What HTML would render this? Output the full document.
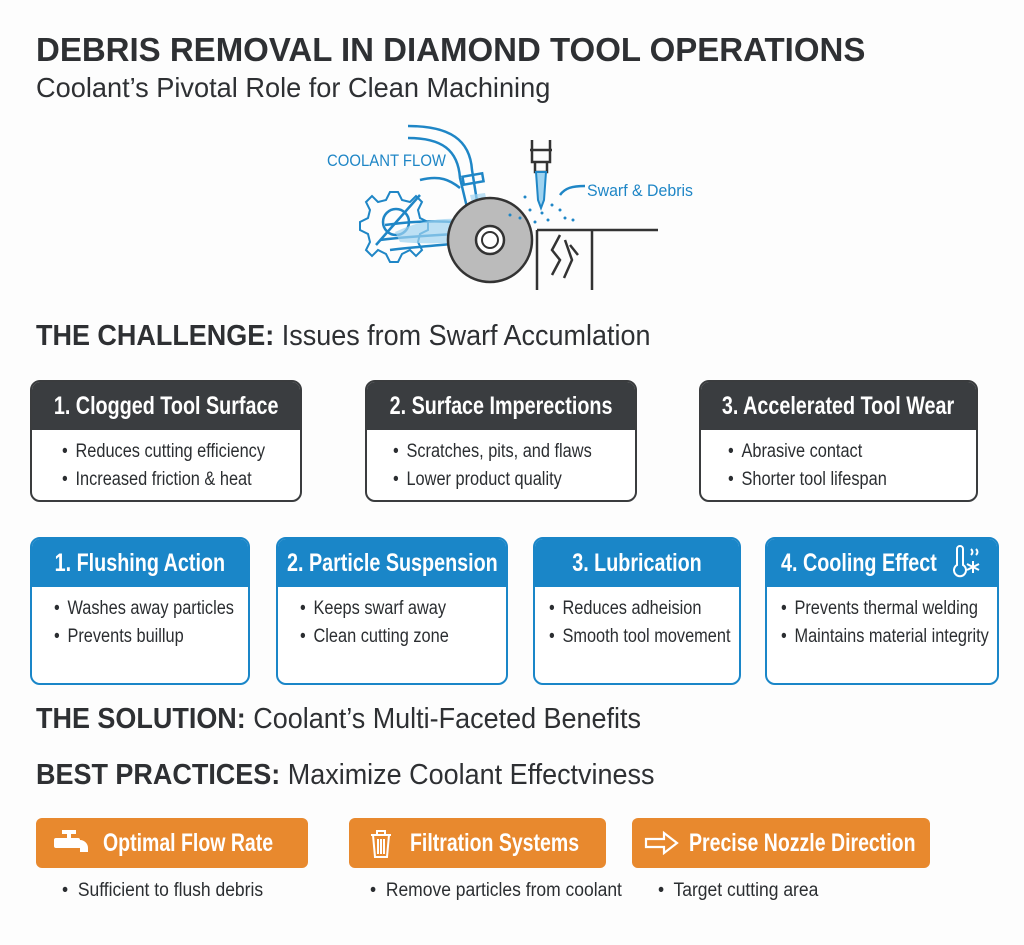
<!DOCTYPE html>
<html><head><meta charset="utf-8"><style>
body{margin:0;width:1024px;height:945px;background:#fdfdfd;position:relative;overflow:hidden;font-family:"Liberation Sans",sans-serif;color:#2b2e31}
.a{position:absolute;white-space:nowrap}
.card{position:absolute;box-sizing:border-box;border-radius:10px;overflow:hidden;background:#fff}
.dk{border:2px solid #3a3c3e}
.dk .h{background:#3a3d40}
.bl{border:2px solid #1a86c8}
.bl .h{background:#1a86c8}
.h{color:#fff;font-size:25px;font-weight:bold;height:48px;display:flex;align-items:center;justify-content:center;white-space:nowrap}
.h span{display:inline-block;transform:scaleX(.79);transform-origin:center}
.b{font-size:19px;line-height:28px;padding-top:8px;white-space:nowrap;transform:scaleX(.86);transform-origin:left top}
.b div::before{content:"•";margin-right:9px}
.or{position:absolute;background:#e8892e;border-radius:6px;color:#fff;font-size:25px;font-weight:bold;height:50px;line-height:50px;box-sizing:border-box;white-space:nowrap}
.or .t{position:absolute;top:0;display:inline-block;transform:scaleX(.78);transform-origin:left center}
.or svg{position:absolute}
.bu{font-size:19px;transform:scaleX(.92);transform-origin:left top}
.hd{font-size:29px;color:#2e3033;transform:scaleX(.93);transform-origin:left top}
</style></head><body>
<div class="a" style="left:36px;top:31px;font-weight:bold;font-size:33px;color:#2e3033">DEBRIS REMOVAL IN DIAMOND TOOL OPERATIONS</div>
<div class="a" style="left:36px;top:72px;font-size:28px;color:#2e3033;transform:scaleX(.97);transform-origin:left top">Coolant’s Pivotal Role for Clean Machining</div>

<svg class="a" style="left:320px;top:100px" width="400" height="200" viewBox="0 0 400 200">
<g fill="none" stroke="#1f86c6" stroke-width="2.5">
<path d="M88 26 C130 26 150 40 152 70 L160 120"/>
<path d="M88 38 C122 38 138 50 140 78 L150 120"/>
<rect x="143" y="75" width="20" height="8" transform="rotate(-10 153 79)"/>
<path d="M100 80 C120 75 130 80 140 88"/>
<path d="M60 140 C100 135 130 135 165 132 M65 125 C100 120 130 120 160 125 M70 150 C110 145 140 145 170 138"/>
<path d="M58 102 l8 -2 l4 -8 l8 0 l4 8 l8 2 l6 -6 l6 6 l-4 8 l2 8 l8 4 l0 8 l-8 4 l-2 8 l4 8 l-6 6 l-6 -6 l-8 4 l-4 8 l-8 0 l-4 -8 l-8 -4 l-6 6 l-6 -6 l4 -8 l-2 -8 l-8 -4 l0 -8 l8 -4 l2 -8 l-4 -8 l6 -6 z" stroke-width="2"/>
<circle cx="76" cy="122" r="13"/>
<line x1="56" y1="145" x2="100" y2="95"/>
<path d="M240 95 C245 88 252 86 265 86"/>
</g>
<path d="M75 132 C110 115 150 115 172 128 L168 142 C140 142 110 145 80 142 Z" fill="#9fd3f0" opacity=".7"/>
<path d="M150 95 L165 93 L172 125 L158 130 Z" fill="#9fd3f0" opacity=".7"/>
<circle cx="170" cy="140" r="42" fill="#bbb" stroke="#333" stroke-width="2.5"/>
<circle cx="170" cy="140" r="14" fill="#fff" stroke="#333" stroke-width="2.5"/>
<circle cx="170" cy="140" r="8" fill="#fff" stroke="#333" stroke-width="2"/>
<g fill="none" stroke="#333" stroke-width="2.5">
<path d="M212 40 V62 H230 V40 M210 50 H232"/>
<path d="M215 62 V72 H227 V62"/>
<path d="M217 130 V190 M217 130 H338 M272 130 V190"/>
<path d="M240 135 L232 150 L240 160 L232 175 M245 140 L252 160 L244 178 M250 145 L258 155"/>
</g>
<path d="M216 72 H226 L224 100 L221 108 L218 100 Z" fill="#9fd3f0" stroke="#1f86c6" stroke-width="2"/>
<g fill="#1f86c6">
<circle cx="205" cy="97" r="1.5"/><circle cx="210" cy="110" r="1.5"/><circle cx="222" cy="113" r="1.5"/><circle cx="232" cy="105" r="1.5"/><circle cx="240" cy="110" r="1.5"/><circle cx="200" cy="118" r="1.5"/><circle cx="190" cy="115" r="1.5"/><circle cx="228" cy="120" r="1.5"/><circle cx="245" cy="118" r="1.5"/><circle cx="215" cy="122" r="1.5"/><circle cx="253" cy="120" r="1.5"/>
</g>
<text x="7" y="66" font-family="Liberation Sans,sans-serif" font-size="17" fill="#1f86c6" textLength="119" lengthAdjust="spacingAndGlyphs">COOLANT FLOW</text>
<text x="267" y="96" font-family="Liberation Sans,sans-serif" font-size="17" fill="#1f86c6" textLength="106" lengthAdjust="spacingAndGlyphs">Swarf &amp; Debris</text>
</svg>

<div class="a hd" style="left:36px;top:320px"><b>THE CHALLENGE:</b> Issues from Swarf Accumlation</div>

<div class="card dk" style="left:30px;top:380px;width:272px;height:122px"><div class="h"><span>1. Clogged Tool Surface</span></div><div class="b" style="margin-left:30px"><div>Reduces cutting efficiency</div><div>Increased friction &amp; heat</div></div></div>
<div class="card dk" style="left:365px;top:380px;width:272px;height:122px"><div class="h"><span>2. Surface Imperections</span></div><div class="b" style="margin-left:26px"><div>Scratches, pits, and flaws</div><div>Lower product quality</div></div></div>
<div class="card dk" style="left:699px;top:380px;width:279px;height:122px"><div class="h"><span>3. Accelerated Tool Wear</span></div><div class="b" style="margin-left:27px"><div>Abrasive contact</div><div>Shorter tool lifespan</div></div></div>

<div class="card bl" style="left:30px;top:537px;width:220px;height:148px"><div class="h"><span>1. Flushing Action</span></div><div class="b" style="margin-left:22px"><div>Washes away particles</div><div>Prevents buillup</div></div></div>
<div class="card bl" style="left:276px;top:537px;width:232px;height:148px"><div class="h"><span>2. Particle Suspension</span></div><div class="b" style="margin-left:22px"><div>Keeps swarf away</div><div>Clean cutting zone</div></div></div>
<div class="card bl" style="left:533px;top:537px;width:208px;height:148px"><div class="h"><span>3. Lubrication</span></div><div class="b" style="margin-left:14px"><div>Reduces adheision</div><div>Smooth tool movement</div></div></div>
<div class="card bl" style="left:765px;top:537px;width:234px;height:148px"><div class="h" style="justify-content:flex-start;padding-left:0"><span style="transform-origin:left center;margin-left:14px">4. Cooling Effect</span>
<svg style="position:absolute;left:186px;top:6px" width="36" height="34" viewBox="0 0 36 34"><g fill="none" stroke="#fff" stroke-width="2"><path d="M4 4 a3 3 0 0 1 6 0 V20 a6 6 0 1 1 -6 0 Z"/><path d="M18 4 q3 3 0 6 M23 4 q3 3 0 6 M20 16 v12 M14 19 l12 6 M26 19 l-12 6"/></g></svg></div><div class="b" style="margin-left:14px"><div>Prevents thermal welding</div><div>Maintains material integrity</div></div></div>

<div class="a hd" style="left:36px;top:703px"><b>THE SOLUTION:</b> Coolant’s Multi-Faceted Benefits</div>
<div class="a hd" style="left:36px;top:759px"><b>BEST PRACTICES:</b> Maximize Coolant Effectviness</div>

<div class="or" style="left:36px;top:818px;width:272px">
<svg style="left:16px;top:10px" width="40" height="32" viewBox="0 0 40 32"><g fill="#fff"><rect x="10" y="2" width="14" height="4"/><rect x="15" y="4" width="4" height="6"/><rect x="2" y="10" width="26" height="10" rx="2"/><path d="M20 12 h8 a8 8 0 0 1 8 8 v4 h-8 v-4 h-8 z"/></g></svg>
<span class="t" style="left:67px">Optimal Flow Rate</span></div>
<div class="or" style="left:349px;top:818px;width:257px">
<svg style="left:20px;top:11px" width="24" height="30" viewBox="0 0 24 30"><g fill="none" stroke="#fff" stroke-width="2"><path d="M2 6 H22 M8 6 V2 H16 V6 M4 6 L6 28 H18 L20 6 M9 10 V25 M12 10 V25 M15 10 V25"/></g></svg>
<span class="t" style="left:61px">Filtration Systems</span></div>
<div class="or" style="left:632px;top:818px;width:298px">
<svg style="left:12px;top:13px" width="36" height="24" viewBox="0 0 36 24"><path d="M2 8 H20 V2 L33 12 L20 22 V16 H2 Z" fill="none" stroke="#fff" stroke-width="2.2"/></svg>
<span class="t" style="left:57px">Precise Nozzle Direction</span></div>

<div class="a bu" style="left:62px;top:880px">•&nbsp; Sufficient to flush debris</div>
<div class="a bu" style="left:370px;top:880px">•&nbsp; Remove particles from coolant</div>
<div class="a bu" style="left:658px;top:880px">•&nbsp; Target cutting area</div>
</body></html>
